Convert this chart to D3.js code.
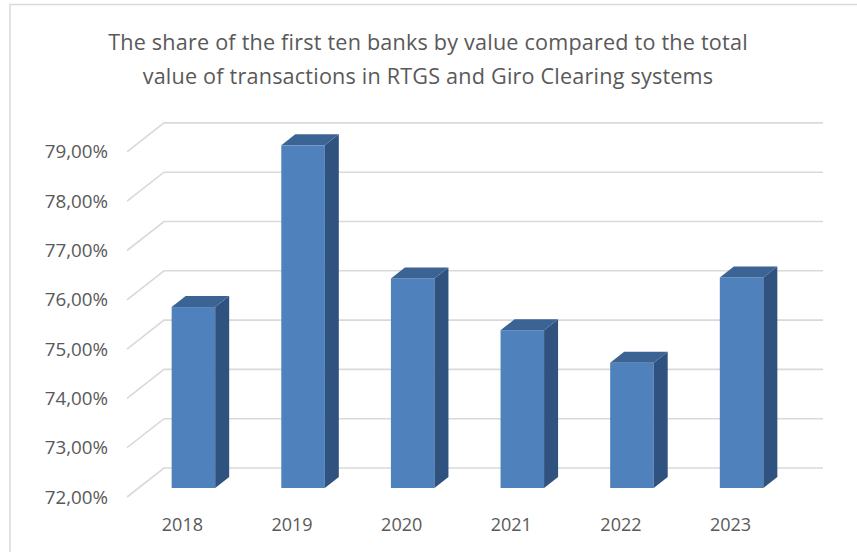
<!DOCTYPE html>
<html>
<head>
<meta charset="utf-8">
<script src="https://cdn.jsdelivr.net/npm/d3@7"></script>
<style>
  body { margin: 0; background: #fff; }
  text { font-family: "Open Sans", Lato, sans-serif; fill: #595959; }
</style>
</head>
<body>
<div id="container"></div>
<script>
const years = ["2018", "2019", "2020", "2021", "2022", "2023"];
const shares = [75.67, 78.95, 76.25, 75.20, 74.54, 76.27];
const tickValues = [72, 73, 74, 75, 76, 77, 78, 79];
const titleLines = [
    "The share of the first ten banks by value compared to the total",
    "value of transactions in RTGS and Giro Clearing systems"
];

const width = 857;
const height = 552;

const svg = d3.select("#container").append("svg")
    .attr("width", width)
    .attr("height", height);

// chart border (only top + left visible in the crop)
svg.append("path")
    .attr("d", `M10,${height} L10,4.5 L${width},4.5`)
    .attr("fill", "none")
    .attr("stroke", "#d9d9d9")
    .attr("stroke-width", 1.5);

// bar-front plane scales
const x = d3.scaleBand()
    .domain(years)
    .range([116.85, 818.15])
    .paddingInner(0.603)
    .paddingOuter(0.5);

const y = d3.scaleLinear()
    .domain([72, 79])
    .range([488, 142.9]);

// depth offsets: back wall / front edge of floor, bar depth
const wall = { dy: -20 };
const front = { x: 127, dy: 9 };
const backLeft = 164, backRight = 823;
const depth = { dx: 14, dy: -11 };

// gridlines: diagonal on side wall + horizontal on back wall
const grid = svg.append("g").attr("class", "grid");
grid.selectAll("path")
    .data(tickValues)
    .join("path")
    .attr("d", d => `M${front.x},${y(d) + front.dy} L${backLeft},${y(d) + wall.dy} L${backRight},${y(d) + wall.dy}`)
    .attr("fill", "none")
    .attr("stroke", "#d9d9d9")
    .attr("stroke-width", 1.6);

// y tick labels
svg.append("g")
    .selectAll("text")
    .data(tickValues)
    .join("text")
    .attr("x", 108)
    .attr("y", d => y(d) + front.dy)
    .attr("dy", "0.35em")
    .attr("text-anchor", "end")
    .style("font-size", "18.8px")
    .text(d => d3.format(".2f")(d).replace(".", ",") + "%");

// 3d columns
const bars = svg.append("g").selectAll("g")
    .data(years.map((yr, i) => ({ year: yr, value: shares[i] })))
    .join("g");

bars.append("rect")
    .attr("x", d => x(d.year))
    .attr("y", d => y(d.value))
    .attr("width", x.bandwidth())
    .attr("height", d => y(72) - y(d.value))
    .attr("fill", "#4f81bd");

bars.append("path")
    .attr("d", d => {
        const x1 = x(d.year) + x.bandwidth();
        const top = y(d.value), bot = y(72);
        return `M${x1},${top} L${x1 + depth.dx},${top + depth.dy} L${x1 + depth.dx},${bot + depth.dy} L${x1},${bot} Z`;
    })
    .attr("fill", "#30527f");

bars.append("path")
    .attr("d", d => {
        const x0 = x(d.year), x1 = x0 + x.bandwidth();
        const top = y(d.value);
        return `M${x0},${top} L${x0 + depth.dx},${top + depth.dy} L${x1 + depth.dx},${top + depth.dy} L${x1},${top} Z`;
    })
    .attr("fill", "#3b6393");

// x labels
svg.append("g")
    .selectAll("text")
    .data(years)
    .join("text")
    .attr("x", d => x(d) + x.bandwidth() / 2 - 11)
    .attr("y", 531)
    .attr("text-anchor", "middle")
    .style("font-size", "18px")
    .text(d => d);

// title
svg.append("g")
    .selectAll("text")
    .data(titleLines)
    .join("text")
    .attr("x", 428)
    .attr("y", (d, i) => 50 + i * 34)
    .attr("text-anchor", "middle")
    .style("font-size", "21.6px")
    .style("letter-spacing", "0.2px")
    .text(d => d);
</script>
</body>
</html>
